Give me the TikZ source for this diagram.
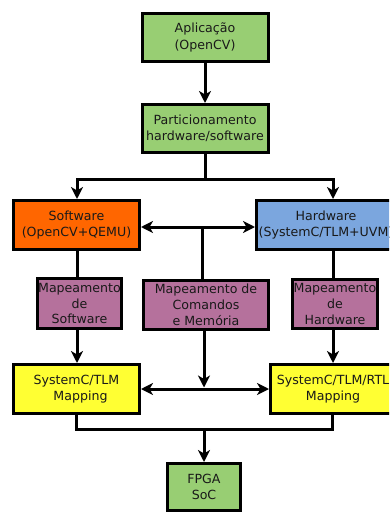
\documentclass[tikz,border=0pt]{standalone}
\usepackage{fontspec}
\setmainfont{DejaVu Sans}
\usetikzlibrary{arrows.meta}
\definecolor{boxgreen}{RGB}{152,206,115}
\definecolor{boxorange}{RGB}{255,102,0}
\definecolor{boxblue}{RGB}{123,166,222}
\definecolor{boxpurple}{RGB}{181,113,156}
\definecolor{boxyellow}{RGB}{255,255,51}
\begin{document}
\begin{tikzpicture}[x=1pt,y=-1pt,
  blk/.style={draw=black, line width=3pt, align=center, inner sep=2pt,
    font=\fontsize{12.6}{16.5}\selectfont, text=black!90},
  conn/.style={line width=3pt, draw=black},
  tip/.style={conn, -{Stealth[length=12pt,width=12pt,inset=3.5pt]}},
  dtip/.style={conn, {Stealth[length=12pt,width=12pt,inset=3.5pt]}-{Stealth[length=12pt,width=12pt,inset=3.5pt]}}]
\useasboundingbox (0,0) rectangle (389,513);
\clip (0,0) rectangle (389,513);

% boxes
\node[blk, fill=boxgreen, minimum width=126pt, minimum height=48pt] (app) at (205,37.5) {Aplicação\\(OpenCV)};
\node[blk, fill=boxgreen, minimum width=126pt, minimum height=48pt] (part) at (205,128.5) {Particionamento\\hardware/software};
\node[blk, fill=boxorange, minimum width=126pt, minimum height=49pt] (sw) at (76.5,225) {Software\\(OpenCV+QEMU)};
\node[blk, fill=boxblue, minimum width=139pt, minimum height=49pt] (hw) at (326,225) {Hardware\\(SystemC/TLM+UVM)};
\node[blk, fill=boxpurple, minimum width=84pt, minimum height=50pt, inner sep=0pt, font=\fontsize{12.6}{15.8}\selectfont] (msw) at (79.5,303.5) {Mapeamento\\de\\Software};
\node[blk, fill=boxpurple, minimum width=125pt, minimum height=49pt, font=\fontsize{12.6}{15.8}\selectfont] (mcm) at (206,305) {Mapeamento de\\Comandos\\e Memória};
\node[blk, fill=boxpurple, minimum width=85pt, minimum height=49pt, inner sep=0pt, font=\fontsize{12.6}{15.8}\selectfont] (mhw) at (335,304) {Mapeamento\\de\\Hardware};
\node[blk, fill=boxyellow, minimum width=126pt, minimum height=49pt] (tlm) at (76.5,389) {SystemC/TLM\\\ \ Mapping};
\node[blk, fill=boxyellow, minimum width=125pt, minimum height=49pt] (rtl) at (333,389) {SystemC/TLM/RTL\\Mapping};
\node[blk, fill=boxgreen, minimum width=73pt, minimum height=47pt] (fpga) at (204,487) {FPGA\\SoC};

% junction points
\coordinate (busL) at (77,179);
\coordinate (busR) at (333,179);
\coordinate (midA) at (202,227);
\coordinate (midB) at (204,389);
\coordinate (botL) at (76,429);
\coordinate (botR) at (332,429);

% application to partitioning
\draw[tip] (app.south) -- (part.north);

% split into software and hardware
\draw[conn] (part.south) -- (part.south |- busL);
\draw[conn, line cap=rect] (busL) -- (busR);
\draw[tip] (busL) -- (busL |- sw.north);
\draw[tip] (busR) -- (busR |- hw.north);

% command and memory mapping between both sides
\draw[dtip] (sw.east |- midA) -- (hw.west |- midA);
\draw[conn] (midA) -- (midA |- mcm.north);
\draw[tip, shorten >=1.5pt] (midB |- mcm.south) -- (midB);
\draw[dtip] (tlm.east |- midB) -- (rtl.west |- midB);

% software branch
\draw[conn] (busL |- sw.south) -- (busL |- msw.north);
\draw[tip] (busL |- msw.south) -- (busL |- tlm.north);

% hardware branch
\draw[conn] (busR |- hw.south) -- (busR |- mhw.north);
\draw[tip] (busR |- mhw.south) -- (busR |- rtl.north);

% merge into FPGA SoC
\draw[conn, line join=miter] (botL |- tlm.south) -- (botL) -- (botR) -- (botR |- rtl.south);
\draw[tip] (fpga.north |- botL) -- (fpga.north);
\end{tikzpicture}
\end{document}
